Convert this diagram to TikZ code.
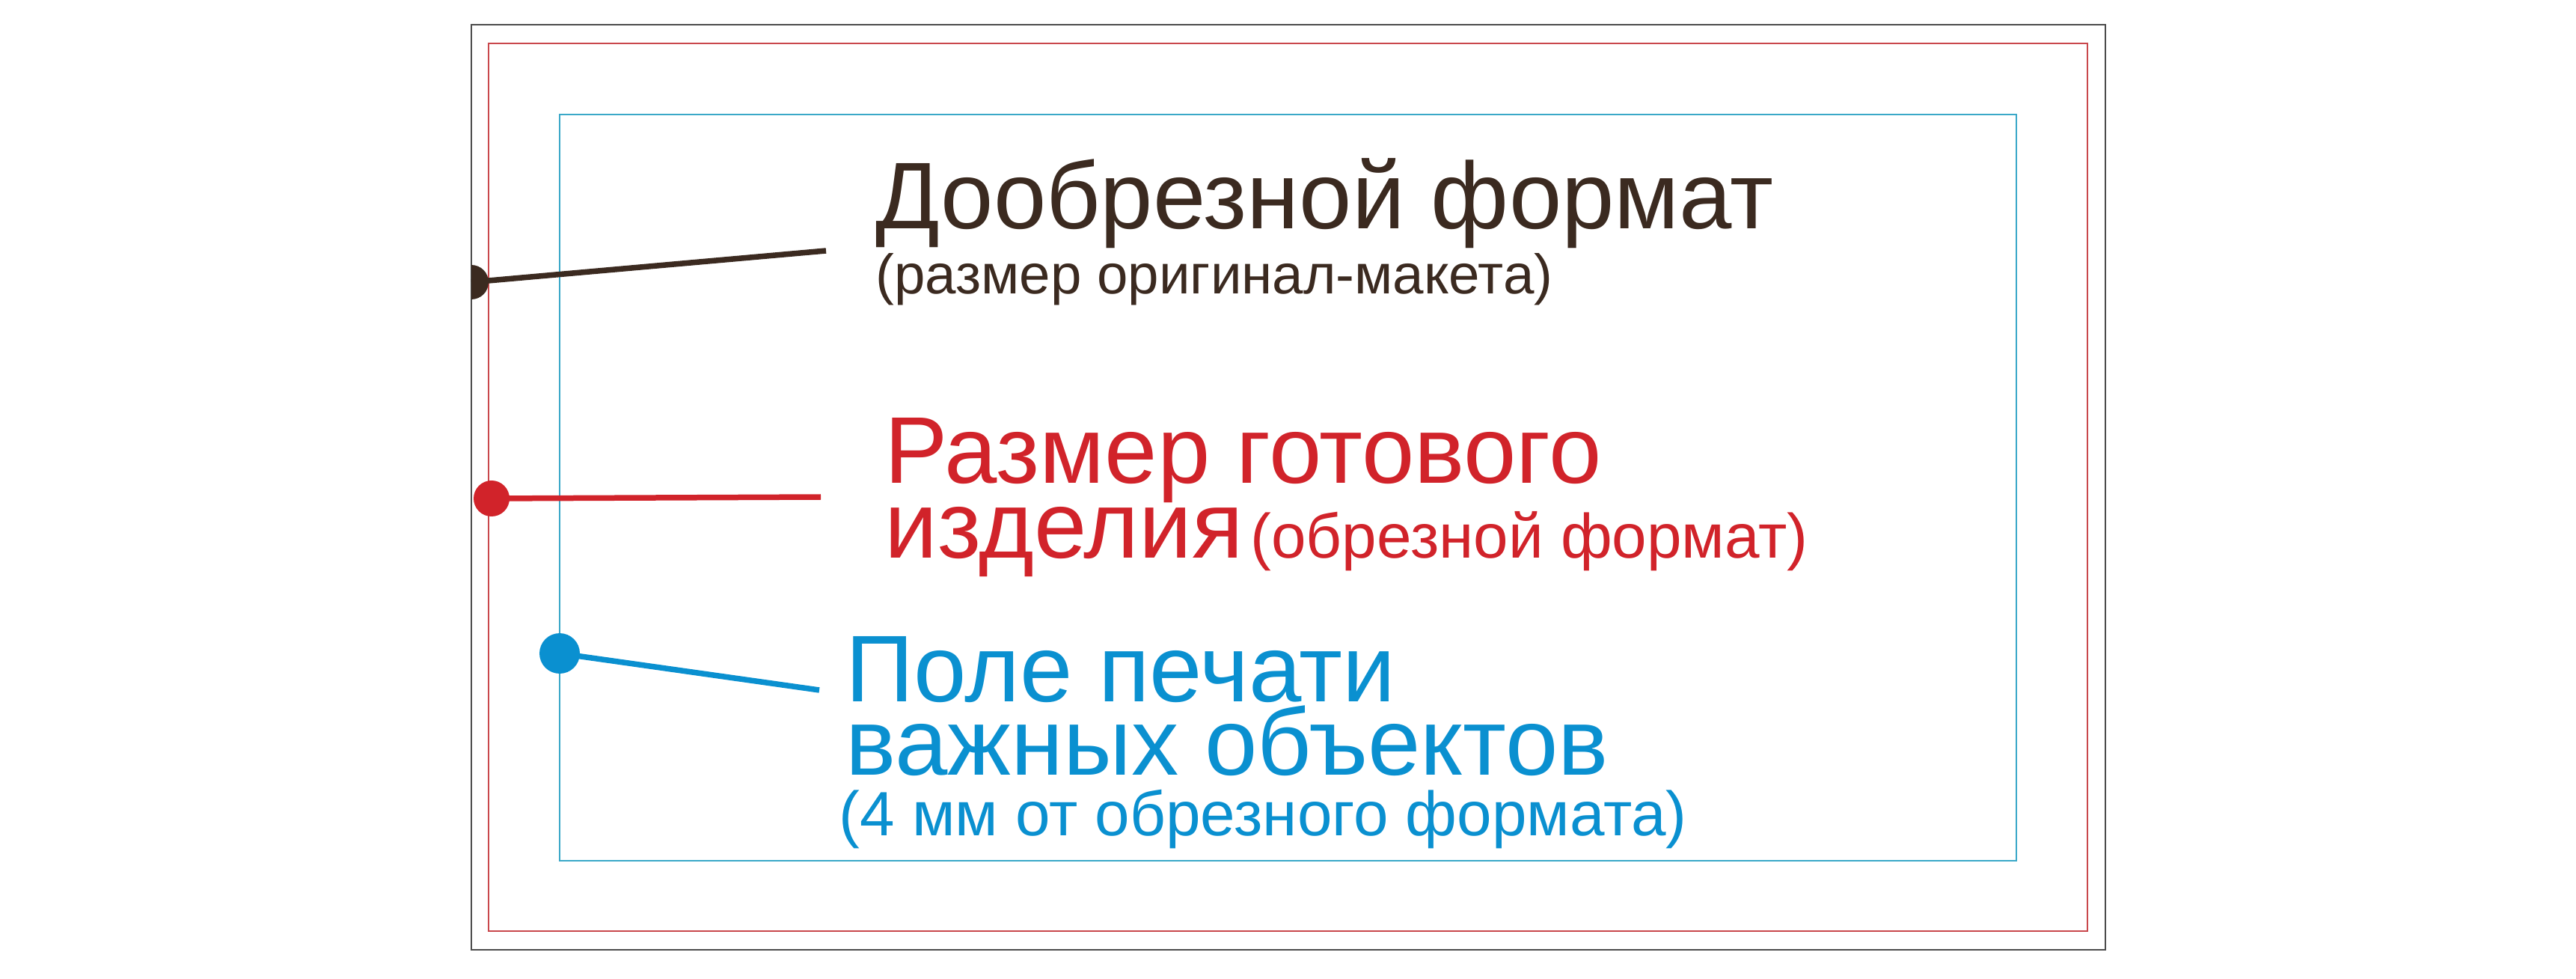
\documentclass[tikz,border=0pt]{standalone}
\usepackage{fontspec}
\setmainfont{Liberation Sans}
\usepackage{tikz}
\definecolor{darkbrown}{HTML}{3B2A20}
\definecolor{cutred}{HTML}{D1232A}
\definecolor{fieldblue}{HTML}{0A90D0}
\definecolor{trimline}{HTML}{C9474C}
\definecolor{safeline}{HTML}{3AA8C8}
\tikzset{
    caption/.style={anchor=base west, inner sep=0pt, align=left},
    bigtext/.style={font=\fontsize{36}{#1}\selectfont},
    bigtext/.default=28.6,
    leader/.style={line width=0.075cm},
}

\begin{document}
\begin{tikzpicture}
\useasboundingbox (0,0) rectangle (34.43,13.07);
\draw[black!70, line width=0.02cm] (6.30,0.38) rectangle (28.14,12.74);
\draw[trimline, line width=0.015cm] (6.53,0.63) rectangle (27.90,12.49);
\draw[safeline, line width=0.015cm] (7.48,1.57) rectangle (26.95,11.54);

\coordinate (pre dot) at (6.30,9.30);
\coordinate (pre end) at (11.04,9.72);
\coordinate (cut dot) at (6.57,6.41);
\coordinate (cut end) at (10.97,6.43);
\coordinate (safe dot) at (7.48,4.34);
\coordinate (safe end) at (10.95,3.85);

% multi-line nodes sit on the baseline of their last line
\node[caption, bigtext, darkbrown] (pre) at (11.70,10.01) {Дообрезной формат};
\node[caption, font=\fontsize{21.2}{21.2}\selectfont, darkbrown] (pre note) at (11.70,9.14) {(размер оригинал-макета)};

\node[caption, bigtext, cutred] (cut) at (11.82,5.61)
    {Размер готового\\изделия\hspace{0.1cm}{\fontsize{23.8}{23.8}\selectfont(обрезной формат)}};

\node[caption, bigtext=27.6, fieldblue] (safe) at (11.30,2.72) {Поле печати\\важных объектов};
\node[caption, font=\fontsize{23.8}{23.8}\selectfont, fieldblue] (safe note) at (11.21,1.91) {(4 мм от обрезного формата)};

\draw[leader, darkbrown] (pre dot) -- (pre end);
\begin{scope}
\clip (6.30,8.8) rectangle (7.0,9.8);
\fill[darkbrown] (pre dot) circle (0.23);
\end{scope}
\draw[leader, cutred] (cut dot) -- (cut end);
\fill[cutred] (cut dot) circle (0.24);
\draw[leader, fieldblue] (safe dot) -- (safe end);
\fill[fieldblue] (safe dot) circle (0.27);
\end{tikzpicture}
\end{document}
